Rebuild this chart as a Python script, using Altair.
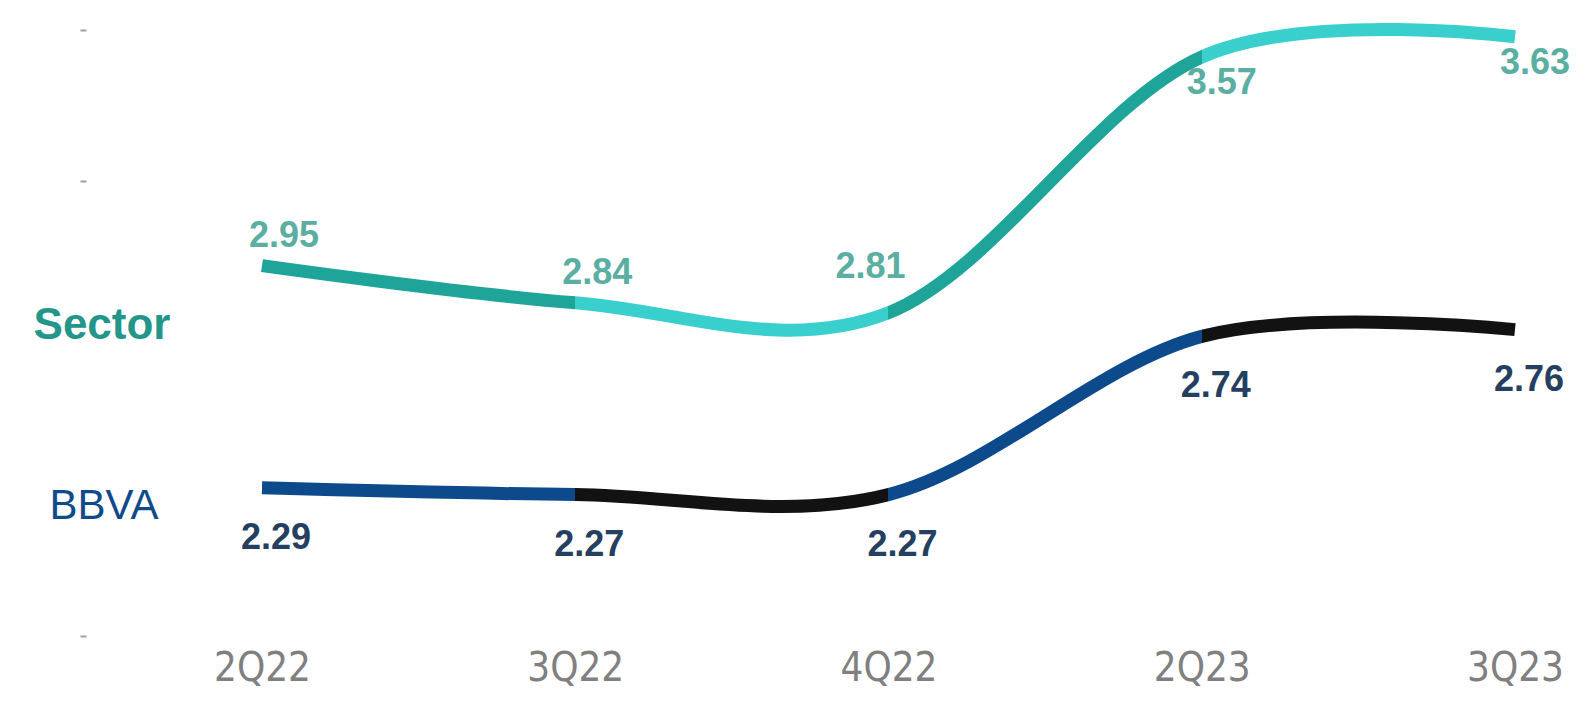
import altair as alt
import pandas as pd

quarters = ["2Q22", "3Q22", "4Q22", "2Q23", "3Q23"]
sector = [2.95, 2.84, 2.81, 3.57, 3.63]
bbva = [2.29, 2.27, 2.27, 2.74, 2.76]
series_names = ["Sector", "BBVA"]
y_domain = [1.85, 3.65]
y_ticks = [1.85, 3.20, 3.65]

df_sector = pd.DataFrame({"quarter": quarters, "value": sector,
                          "label": [f"{v:.2f}" for v in sector]})
df_bbva = pd.DataFrame({"quarter": quarters, "value": bbva,
                        "label": [f"{v:.2f}" for v in bbva]})

x_enc = alt.X("quarter:N", sort=quarters,
              scale=alt.Scale(type="point", range=[176, 1429], padding=0),
              axis=alt.Axis(title=None, domain=False, ticks=False, grid=False,
                            labelFontSize=40, labelColor="#808080", labelPadding=12,
                            labelFont="Liberation Sans Narrow, DejaVu Sans Condensed, Liberation Sans, sans-serif",
                            labelAngle=0))
y_enc = alt.Y("value:Q", scale=alt.Scale(domain=y_domain, nice=False, zero=False),
              axis=alt.Axis(title=None, domain=False, grid=False, values=y_ticks,
                            labels=False, tickSize=6, tickColor="#a0a0a0", tickWidth=2))


def seg_gradient(c1, c2):
    return {
        "gradient": "linear", "x1": 0, "x2": 1, "y1": 0, "y2": 0,
        "stops": [
            {"offset": 0, "color": c1}, {"offset": 0.25, "color": c1},
            {"offset": 0.25, "color": c2}, {"offset": 0.5, "color": c2},
            {"offset": 0.5, "color": c1}, {"offset": 0.75, "color": c1},
            {"offset": 0.75, "color": c2}, {"offset": 1, "color": c2},
        ],
    }


sector_line = alt.Chart(df_sector).mark_line(
    interpolate="cardinal", strokeWidth=13, strokeCap="butt",
    stroke=seg_gradient("#1fa49a", "#38cfcc")
).encode(x=x_enc, y=y_enc)

bbva_line = alt.Chart(df_bbva).mark_line(
    interpolate="cardinal", strokeWidth=13, strokeCap="butt",
    stroke=seg_gradient("#0d4a8c", "#121212")
).encode(x=x_enc, y=y_enc)

label_font = "Liberation Sans, Arial, sans-serif"

sector_above = alt.Chart(df_sector).transform_filter(
    alt.FieldOneOfPredicate(field="quarter", oneOf=quarters[:2])
).mark_text(fontSize=36, fontWeight="bold", color="#5aaea2", font=label_font,
            baseline="middle", dy=-30, dx=22).encode(x=x_enc, y=y_enc, text="label:N")

sector_above_left = alt.Chart(df_sector).transform_filter(
    alt.FieldOneOfPredicate(field="quarter", oneOf=quarters[2:3])
).mark_text(fontSize=36, fontWeight="bold", color="#5aaea2", font=label_font,
            baseline="middle", dy=-46, dx=-18).encode(x=x_enc, y=y_enc, text="label:N")

sector_below = alt.Chart(df_sector).transform_filter(
    alt.FieldOneOfPredicate(field="quarter", oneOf=quarters[3:])
).mark_text(fontSize=36, fontWeight="bold", color="#5aaea2", font=label_font,
            baseline="middle", dy=26, dx=20).encode(x=x_enc, y=y_enc, text="label:N")

bbva_below = alt.Chart(df_bbva).mark_text(
    fontSize=36, fontWeight="bold", color="#243f60", font=label_font,
    baseline="middle", dy=50, dx=14).encode(x=x_enc, y=y_enc, text="label:N")

sector_name = alt.Chart(df_sector).transform_filter(
    alt.FieldEqualPredicate(field="quarter", equal=quarters[0])
).transform_calculate(name=f"'{series_names[0]}'").mark_text(
    fontSize=44, fontWeight="bold", color="#23958a", font=label_font,
    baseline="middle", dx=-160, dy=60).encode(x=x_enc, y=y_enc, text="name:N")

bbva_name = alt.Chart(df_bbva).transform_filter(
    alt.FieldEqualPredicate(field="quarter", equal=quarters[0])
).transform_calculate(name=f"'{series_names[1]}'").mark_text(
    fontSize=42, fontWeight=500, color="#0f4a8a", font=label_font,
    baseline="middle", dx=-158, dy=18).encode(x=x_enc, y=y_enc, text="name:N")

chart = alt.layer(
    sector_line, bbva_line, sector_above, sector_above_left, sector_below,
    bbva_below, sector_name, bbva_name
).properties(
    width=1490, height=606,
    padding={"left": 78, "top": 22, "right": 0, "bottom": 70},
    autosize=alt.AutoSizeParams(type="none"),
    background="white",
).configure_view(stroke=None)

chart.save("out.html", embed_options={"renderer": "svg", "actions": False})
